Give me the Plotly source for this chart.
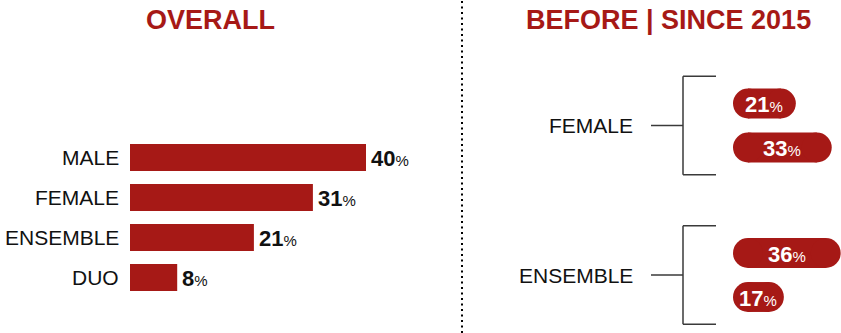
import plotly.graph_objects as go

# Overall share by act type
overall_cats = ["MALE", "FEMALE", "ENSEMBLE", "DUO"]
overall_vals = [40, 31, 21, 8]

# Before vs. since 2015, per group
period_cats = ["BEFORE", "SINCE 2015"]
female_vals = [21, 33]
ensemble_vals = [36, 17]

RED = "#A61916"
INK = "#111111"
FONT = "Liberation Sans, Arial, sans-serif"
W, H = 841, 333


def px_x(p):
    return p / W


def px_y(p):
    return 1 - p / H


# Pill panel geometry: x2 spans 108 px for 36.1 units; rows are 44 px apart
PILL_X_RANGE = 36.1
PILL_PX_PER_UNIT = 108 / PILL_X_RANGE
PILL_THICK = 0.68            # in category units
PILL_DIAM = PILL_THICK * 44  # px
CAP = (PILL_DIAM / 2) / PILL_PX_PER_UNIT  # cap radius in data units

fig = go.Figure()

# Left: horizontal bars
fig.add_trace(go.Bar(
    x=overall_vals, y=overall_cats, orientation="h",
    marker=dict(color=RED, line=dict(width=0)),
    xaxis="x", yaxis="y", hoverinfo="skip",
))


# Right: pills = rectangle body + round caps at both ends
def add_pills(vals, yaxis):
    fig.add_trace(go.Bar(
        x=[v - 2 * CAP for v in vals], base=[CAP] * len(vals), y=period_cats,
        orientation="h", width=PILL_THICK, marker=dict(color=RED, line=dict(width=0)),
        xaxis="x2", yaxis=yaxis, hoverinfo="skip",
    ))
    caps_x = [CAP for _ in vals] + [v - CAP for v in vals]
    fig.add_trace(go.Scatter(
        x=caps_x, y=period_cats + period_cats, mode="markers",
        marker=dict(color=RED, size=PILL_DIAM, line=dict(width=0), symbol="circle"),
        xaxis="x2", yaxis=yaxis, hoverinfo="skip", cliponaxis=False,
    ))


add_pills(female_vals, "y2")
add_pills(ensemble_vals, "y3")

annotations = []

# Category labels and value labels for the overall bars
for c, v in zip(overall_cats, overall_vals):
    annotations.append(dict(
        x=px_x(121), xref="paper", y=c, yref="y", xanchor="right", yanchor="middle",
        text=c, showarrow=False, font=dict(family=FONT, size=21, color=INK),
    ))
    annotations.append(dict(
        x=v, xref="x", y=c, yref="y", xanchor="left", yanchor="middle", xshift=3, yshift=-1,
        text=f"<b>{v}</b><span style='font-size:15px'>%</span>", showarrow=False,
        font=dict(family=FONT, size=22, color=INK),
    ))

# Values inside the pills
for vals, yref in ((female_vals, "y2"), (ensemble_vals, "y3")):
    for c, v in zip(period_cats, vals):
        annotations.append(dict(
            x=v / 2, xref="x2", y=c, yref=yref, xanchor="center", yanchor="middle", yshift=-1,
            text=f"<b>{v}</b><span style='font-size:15px'>%</span>", showarrow=False,
            font=dict(family=FONT, size=22, color="#FFFFFF"),
        ))

# Group labels
for label, yref in (("FEMALE", "y2 domain"), ("ENSEMBLE", "y3 domain")):
    annotations.append(dict(
        x=px_x(635), xref="paper", y=0.5, yref=yref, xanchor="right", yanchor="middle",
        text=label, showarrow=False, font=dict(family=FONT, size=21, color=INK),
    ))

# Section titles
for title, cx in (("OVERALL", 211), ("BEFORE | SINCE 2015", 668)):
    annotations.append(dict(
        x=px_x(cx), xref="paper", y=px_y(20), yref="paper", xanchor="center", yanchor="middle",
        text=f"<b>{title}</b>", showarrow=False, font=dict(family=FONT, size=27, color=RED),
    ))

shapes = [
    # dotted divider between the two panels
    dict(type="line", xref="paper", yref="paper", x0=px_x(462), x1=px_x(462), y0=0, y1=1,
         line=dict(color="#000000", width=2, dash="2px,3.5px")),
]
# Brackets joining each group label to its pills
for yref in ("y2 domain", "y3 domain"):
    line = dict(color="#3a3a3a", width=1.5)
    shapes += [
        dict(type="line", xref="paper", yref=yref, x0=px_x(651), x1=px_x(683), y0=0.5, y1=0.5, line=line),
        dict(type="line", xref="paper", yref=yref, x0=px_x(683), x1=px_x(683), y0=-0.06, y1=1.06, line=line),
        dict(type="line", xref="paper", yref=yref, x0=px_x(683), x1=px_x(716), y0=1.06, y1=1.06, line=line),
        dict(type="line", xref="paper", yref=yref, x0=px_x(683), x1=px_x(716), y0=-0.06, y1=-0.06, line=line),
    ]

hidden = dict(visible=False, showgrid=False, zeroline=False, fixedrange=True)

fig.update_layout(
    width=W, height=H, margin=dict(l=0, r=0, t=0, b=0),
    paper_bgcolor="white", plot_bgcolor="rgba(0,0,0,0)",
    showlegend=False, barmode="overlay", bargap=0.32,
    xaxis=dict(hidden, domain=[px_x(130), px_x(430)], range=[0, 300 / 5.9], anchor="y"),
    yaxis=dict(hidden, domain=[px_y(297.5), px_y(137.5)], type="category",
               categoryarray=overall_cats, range=[3.5, -0.5], anchor="x"),
    xaxis2=dict(hidden, domain=[px_x(733), 1], range=[0, PILL_X_RANGE], anchor="y2"),
    yaxis2=dict(hidden, domain=[px_y(169.5), px_y(81.5)], type="category",
                categoryarray=period_cats, range=[1.5, -0.5], anchor="x2"),
    yaxis3=dict(hidden, domain=[px_y(319), px_y(231)], type="category",
                categoryarray=period_cats, range=[1.5, -0.5], anchor="x2"),
    annotations=annotations, shapes=shapes,
)

fig.write_html("out.html")
